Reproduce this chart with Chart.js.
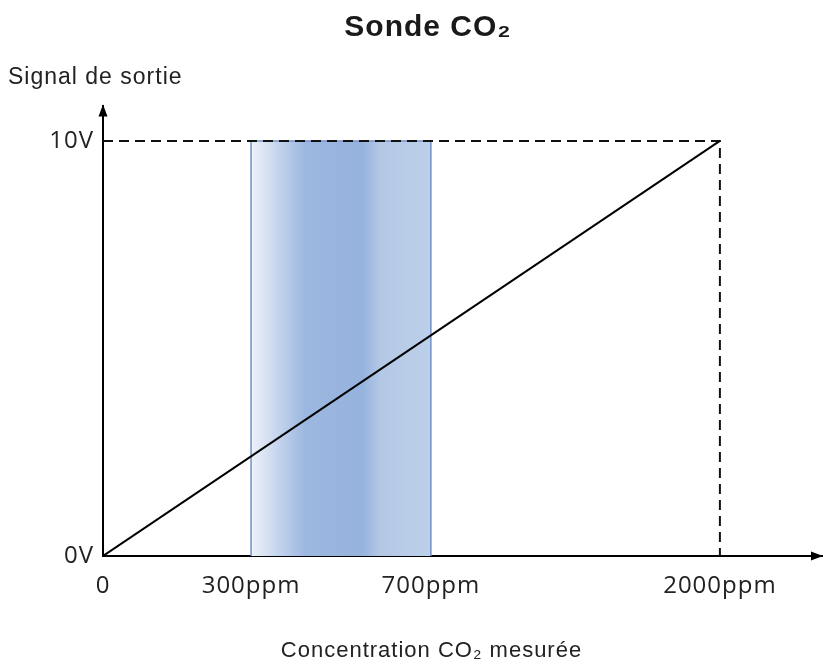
<!DOCTYPE html>
<html><head><meta charset="utf-8">
<script src="https://cdn.jsdelivr.net/npm/chart.js@4/dist/chart.umd.min.js"></script>
<style>html,body{margin:0;padding:0;background:#fff;}#wrap{width:825px;height:664px;}</style>
</head><body><div id="wrap"><canvas id="c" width="825" height="664"></canvas></div>
<script>
const chartTitle = 'Sonde CO₂';
const yAxisTitle = 'Signal de sortie';
const xAxisTitle = 'Concentration CO₂ mesurée';
// schematic axis: values are in drawn-axis units (2000 = the 2000ppm mark)
const xTickValues = [0, 480, 1063, 2000];
const xTickLabels = ['0', '300ppm', '700ppm', '2000ppm'];
const yTickValues = [0, 10];
const yTickLabels = ['0V', '10V'];
const signalX = [0, 2000];
const signalY = [0, 10];
const bandX = [480, 1063];
const bandY = [0, 10];
const xMax = 2331;
const yMax = 10.85;

const tickFont = {family: "'Open Sans'", size: 24};
const textColor = '#222';

const arrows = {
  id: 'arrows',
  afterDraw(chart) {
    const {ctx, chartArea: {left, top, right, bottom}} = chart;
    ctx.save();
    ctx.fillStyle = '#000';
    ctx.beginPath();
    ctx.moveTo(left, top - 1);
    ctx.lineTo(left - 4.5, top + 11);
    ctx.lineTo(left + 4.5, top + 11);
    ctx.closePath();
    ctx.fill();
    ctx.beginPath();
    ctx.moveTo(right + 1, bottom);
    ctx.lineTo(right - 11, bottom - 4.5);
    ctx.lineTo(right - 11, bottom + 4.5);
    ctx.closePath();
    ctx.fill();
    ctx.restore();
  }
};
// text tweaks: letter spacing and horizontal centring of the two titles
const textTweaks = {
  id: 'textTweaks',
  afterLayout(chart) {
    if (chart.titleBlock) {
      chart.titleBlock.left += 13;
      chart.titleBlock.right += 13;
    }
    const xs = chart.scales.x;
    if (xs && !xs._shifted) {
      const orig = xs.drawTitle;
      xs.drawTitle = function () {
        const ctx = this.ctx;
        ctx.save();
        ctx.translate(-31, 0);
        orig.call(this);
        ctx.restore();
      };
      xs._shifted = true;
    }
  },
  beforeDraw(chart) { chart.ctx.letterSpacing = '1px'; }
};

const bandGradient = (context) => {
  const chart = context.chart;
  const {ctx, chartArea} = chart;
  if (!chartArea) return 'rgba(155,183,224,0.8)';
  const xs = chart.scales.x;
  const x0 = xs.getPixelForValue(bandX[0]);
  const x1 = xs.getPixelForValue(bandX[1]);
  const g = ctx.createLinearGradient(x0, 0, x1, 0);
  g.addColorStop(0, '#eef2fa');
  g.addColorStop(0.3, '#9cb7e0');
  g.addColorStop(0.62, '#96b3dd');
  g.addColorStop(0.72, '#b4c8e6');
  g.addColorStop(1, '#bdd0ea');
  return g;
};

new Chart(document.getElementById('c'), {
  type: 'scatter',
  data: {
    datasets: [
      {
        data: signalX.map((x, i) => ({x, y: signalY[i]})),
        showLine: true, borderColor: '#000', borderWidth: 2, pointRadius: 0, fill: false
      },
      {
        data: [
          {x: signalX[0], y: signalY[1]},
          {x: signalX[1], y: signalY[1]},
          {x: signalX[1], y: signalY[0]}
        ],
        showLine: true, borderColor: '#111', borderWidth: 2, borderDash: [10, 6], pointRadius: 0, fill: false
      },
      {
        data: [
          {x: bandX[0], y: bandY[0]},
          {x: bandX[0], y: bandY[1]},
          {x: bandX[1], y: bandY[1]},
          {x: bandX[1], y: bandY[0]}
        ],
        showLine: true, borderColor: '#7090c8', borderWidth: 1.5, pointRadius: 0,
        fill: 'origin', backgroundColor: bandGradient
      }
    ]
  },
  options: {
    responsive: false,
    animation: false,
    events: [],
    layout: {padding: {left: 8, right: 3, top: 0, bottom: 0}},
    plugins: {
      legend: {display: false},
      tooltip: {enabled: false},
      title: {
        display: true, text: chartTitle, color: '#1a1a1a',
        font: {family: "'Liberation Sans'", size: 30, weight: 'bold'},
        padding: {top: 10, bottom: 8}
      },
      subtitle: {
        display: true, text: yAxisTitle, align: 'start', color: textColor,
        font: {family: "'Liberation Sans'", size: 23},
        padding: {top: 10, bottom: 14}
      }
    },
    scales: {
      x: {
        type: 'linear', min: 0, max: xMax,
        afterBuildTicks: s => { s.ticks = xTickValues.map(v => ({value: v})); },
        afterFit: s => { s.height = 108; },
        ticks: {
          autoSkip: false, maxRotation: 0, padding: 16, color: textColor, font: tickFont,
          callback: v => xTickLabels[xTickValues.indexOf(v)]
        },
        grid: {display: false, drawTicks: false},
        border: {display: true, color: '#000', width: 2},
        title: {
          display: true, text: xAxisTitle, color: textColor,
          font: {family: "'Liberation Sans'", size: 22},
          padding: {top: 0, bottom: 0}
        }
      },
      y: {
        type: 'linear', min: 0, max: yMax,
        afterBuildTicks: s => { s.ticks = yTickValues.map(v => ({value: v})); },
        afterFit: s => { s.width = 95; },
        ticks: {
          autoSkip: false, padding: 9, color: textColor, font: tickFont,
          callback: v => yTickLabels[yTickValues.indexOf(v)]
        },
        grid: {display: false, drawTicks: false},
        border: {display: true, color: '#000', width: 2}
      }
    }
  },
  plugins: [arrows, textTweaks]
});
</script>
</body></html>
